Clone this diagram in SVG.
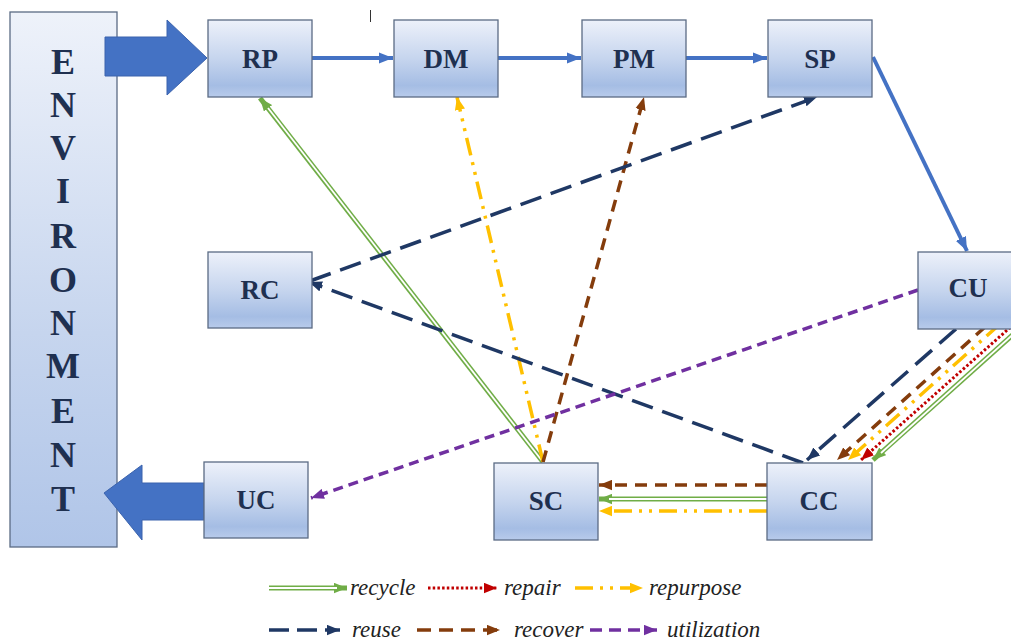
<svg xmlns="http://www.w3.org/2000/svg" width="1011" height="640" viewBox="0 0 1011 640">
<style>
.box{fill:url(#bg);stroke:#5b6b84;stroke-width:1.3}
.lbl{font-family:"Liberation Serif","Times New Roman",serif;font-weight:bold;font-size:27px;fill:#1f3050;text-anchor:middle;dominant-baseline:central}
.env{font-family:"Liberation Serif","Times New Roman",serif;font-weight:bold;font-size:36px;fill:#1f3050;text-anchor:middle;dominant-baseline:central}
.leg{font-family:"Liberation Serif","Times New Roman",serif;font-style:italic;font-size:23px;fill:#222}
.c{fill:none}
.blue{stroke:#4472c4;stroke-width:4}
.navy{stroke:#1f3864;stroke-width:3.5;stroke-dasharray:22 10}
.brown{stroke:#843c0c;stroke-width:3.5;stroke-dasharray:12 8}
.purple{stroke:#7030a0;stroke-width:3.5;stroke-dasharray:10 6}
.gold{stroke:#ffc000;stroke-width:3.5;stroke-dasharray:18 7 3 7 3 7}
.red{stroke:#c00000;stroke-width:3;stroke-dasharray:2.5 2.2}
.green{stroke:#70ad47;stroke-width:5}
.gin{stroke:#ffffff;stroke-width:1.8}
.big{fill:#4472c4;stroke:#3b63ad;stroke-width:1}
</style>
<defs>
<linearGradient id="bg" x1="0" y1="0" x2="0" y2="1">
<stop offset="0" stop-color="#edf1fa"/>
<stop offset="0.5" stop-color="#c6d5ee"/>
<stop offset="0.85" stop-color="#a5bde4"/>
<stop offset="1" stop-color="#b8cbeb"/>
</linearGradient>
<linearGradient id="envg" x1="0" y1="0" x2="0" y2="1">
<stop offset="0" stop-color="#eef2fa"/>
<stop offset="0.6" stop-color="#c6d5ee"/>
<stop offset="1" stop-color="#b0c5e8"/>
</linearGradient>
<marker id="mBlue" viewBox="0 0 10 8" refX="10" refY="4" markerUnits="userSpaceOnUse" markerWidth="14" markerHeight="12" orient="auto"><path d="M0,0L10,4L0,8z" fill="#4472c4"/></marker>
<marker id="mNavy" viewBox="0 0 10 8" refX="10" refY="4" markerUnits="userSpaceOnUse" markerWidth="13" markerHeight="11" orient="auto"><path d="M0,0L10,4L0,8z" fill="#1f3864"/></marker>
<marker id="mBrown" viewBox="0 0 10 8" refX="10" refY="4" markerUnits="userSpaceOnUse" markerWidth="13" markerHeight="11" orient="auto"><path d="M0,0L10,4L0,8z" fill="#843c0c"/></marker>
<marker id="mPurple" viewBox="0 0 10 8" refX="10" refY="4" markerUnits="userSpaceOnUse" markerWidth="13" markerHeight="11" orient="auto"><path d="M0,0L10,4L0,8z" fill="#7030a0"/></marker>
<marker id="mGold" viewBox="0 0 10 8" refX="10" refY="4" markerUnits="userSpaceOnUse" markerWidth="13" markerHeight="11" orient="auto"><path d="M0,0L10,4L0,8z" fill="#ffc000"/></marker>
<marker id="mRed" viewBox="0 0 10 8" refX="10" refY="4" markerUnits="userSpaceOnUse" markerWidth="13" markerHeight="11" orient="auto"><path d="M0,0L10,4L0,8z" fill="#c00000"/></marker>
<marker id="mGreen" viewBox="0 0 10 8" refX="10" refY="4" markerUnits="userSpaceOnUse" markerWidth="13" markerHeight="11" orient="auto"><path d="M0,0L10,4L0,8z" fill="#70ad47"/></marker>
</defs>
<rect width="1011" height="640" fill="#ffffff"/>
<line x1="370.5" y1="10" x2="370.5" y2="22" stroke="#333" stroke-width="1"/>

<g id="environment">
<rect x="10" y="12" width="107" height="535" fill="url(#envg)" stroke="#5b6b84" stroke-width="1.3"/>
<text class="env" x="63" y="62">E</text>
<text class="env" x="63" y="105">N</text>
<text class="env" x="63" y="148">V</text>
<text class="env" x="63" y="191">I</text>
<text class="env" x="63" y="236">R</text>
<text class="env" x="63" y="280">O</text>
<text class="env" x="63" y="323">N</text>
<text class="env" x="63" y="366">M</text>
<text class="env" x="63" y="411">E</text>
<text class="env" x="63" y="455">N</text>
<text class="env" x="63" y="499">T</text>
</g>

<g id="env-in"><path class="big" d="M105,37H167V20L207,58L167,95V76H105Z"/></g>
<g id="env-out"><path class="big" d="M204,483H142V465L104,493L142,540V520H204Z"/></g>

<g id="connectors">
<line class="c blue" x1="312" y1="58" x2="393" y2="58" marker-end="url(#mBlue)"/>
<line class="c blue" x1="498" y1="58" x2="581" y2="58" marker-end="url(#mBlue)"/>
<line class="c blue" x1="686" y1="58" x2="767" y2="58" marker-end="url(#mBlue)"/>
<line class="c blue" x1="873" y1="57" x2="967" y2="251" marker-end="url(#mBlue)"/>

<line class="c green" x1="543" y1="462" x2="260" y2="98" marker-end="url(#mGreen)"/>
<line class="c gin" x1="543" y1="462" x2="268" y2="108"/>
<line class="c gold" x1="543" y1="462" x2="457" y2="97" marker-end="url(#mGold)"/>
<line class="c brown" x1="543" y1="462" x2="644" y2="97" marker-end="url(#mBrown)"/>

<line class="c navy" x1="310" y1="281" x2="817" y2="97" marker-end="url(#mNavy)"/>
<line class="c navy" x1="803" y1="463" x2="309" y2="282" marker-end="url(#mNavy)"/>

<line class="c purple" x1="918" y1="290" x2="311" y2="498" marker-end="url(#mPurple)"/>

<line class="c navy" x1="956" y1="329" x2="807" y2="460" marker-end="url(#mNavy)"/>
<line class="c brown" x1="985" y1="327" x2="837" y2="460" marker-end="url(#mBrown)"/>
<line class="c gold" x1="1000" y1="324" x2="848" y2="460" marker-end="url(#mGold)"/>
<line class="c red" x1="1014" y1="324" x2="861" y2="460" marker-end="url(#mRed)"/>
<line class="c green" x1="1018" y1="330" x2="873" y2="460" marker-end="url(#mGreen)"/>
<line class="c gin" x1="1018" y1="330" x2="881" y2="453"/>

<line class="c brown" x1="767" y1="485" x2="599" y2="485" marker-end="url(#mBrown)"/>
<line class="c green" x1="767" y1="499" x2="599" y2="499" marker-end="url(#mGreen)"/>
<line class="c gin" x1="767" y1="499" x2="609" y2="499"/>
<line class="c gold" x1="767" y1="511" x2="599" y2="511" marker-end="url(#mGold)"/>
</g>

<g id="RP"><rect class="box" x="208" y="20" width="104" height="77"/><text class="lbl" x="260" y="59">RP</text></g>
<g id="DM"><rect class="box" x="394" y="20" width="104" height="77"/><text class="lbl" x="446" y="59">DM</text></g>
<g id="PM"><rect class="box" x="582" y="20" width="104" height="77"/><text class="lbl" x="634" y="59">PM</text></g>
<g id="SP"><rect class="box" x="768" y="20" width="104" height="77"/><text class="lbl" x="820" y="59">SP</text></g>
<g id="RC"><rect class="box" x="208" y="252" width="104" height="76"/><text class="lbl" x="260" y="290">RC</text></g>
<g id="CU"><rect class="box" x="918" y="252" width="104" height="77"/><text class="lbl" x="968" y="288">CU</text></g>
<g id="UC"><rect class="box" x="204" y="462" width="104" height="76"/><text class="lbl" x="256" y="500">UC</text></g>
<g id="SC"><rect class="box" x="494" y="463" width="104" height="77"/><text class="lbl" x="546" y="501">SC</text></g>
<g id="CC"><rect class="box" x="767" y="463" width="105" height="77"/><text class="lbl" x="819" y="501">CC</text></g>

<g id="legend">
<line class="c green" x1="269" y1="588" x2="347" y2="588" marker-end="url(#mGreen)"/>
<line class="c gin" x1="269" y1="588" x2="337" y2="588"/>
<text class="leg" x="350" y="595">recycle</text>
<line class="c red" x1="428" y1="588" x2="497" y2="588" marker-end="url(#mRed)"/>
<text class="leg" x="504" y="595">repair</text>
<line class="c gold" x1="575" y1="588" x2="643" y2="588" marker-end="url(#mGold)"/>
<text class="leg" x="649" y="595">repurpose</text>
<line class="c navy" x1="269" y1="630" x2="340" y2="630" marker-end="url(#mNavy)" style="stroke-dasharray:20 8"/>
<text class="leg" x="352" y="637">reuse</text>
<line class="c brown" x1="417" y1="630" x2="500" y2="630" marker-end="url(#mBrown)" style="stroke-dasharray:14 8"/>
<text class="leg" x="514" y="637">recover</text>
<line class="c purple" x1="590" y1="630" x2="657" y2="630" marker-end="url(#mPurple)" style="stroke-dasharray:12 7"/>
<text class="leg" x="667" y="637">utilization</text>
</g>
</svg>
